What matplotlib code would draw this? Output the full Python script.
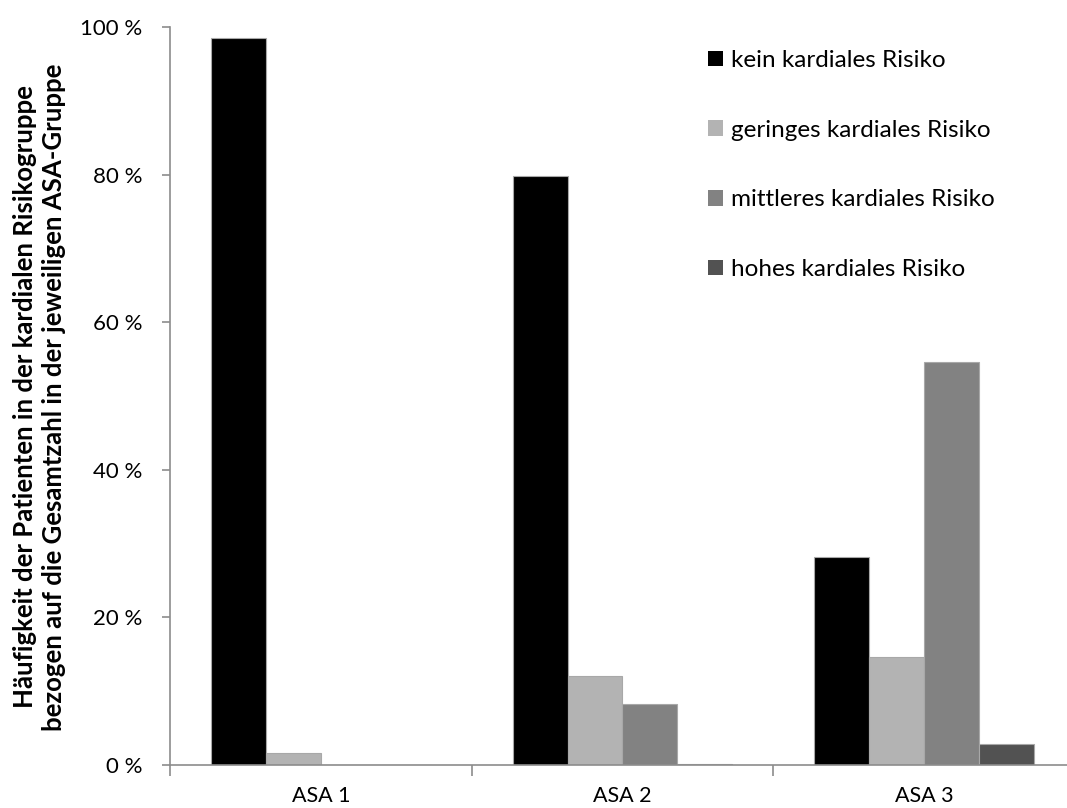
import matplotlib.pyplot as plt
import numpy as np

# ASA groups and share of patients per cardiac risk group (%)
groups = ['ASA 1', 'ASA 2', 'ASA 3']
risk_labels = ['kein kardiales Risiko', 'geringes kardiales Risiko',
               'mittleres kardiales Risiko', 'hohes kardiales Risiko']
kein = [98.5, 79.8, 28.2]
gering = [1.6, 12.0, 14.7]
mittel = [0.0, 8.2, 54.6]
hoch = [0.0, 0.2, 2.8]
yticks = [0, 20, 40, 60, 80, 100]

colors = ['#000000', '#b3b3b3', '#828282', '#525252']
series = [kein, gering, mittel, hoch]

plt.rcParams['font.family'] = ['Lato', 'DejaVu Sans']

fig = plt.figure(figsize=(10.67, 8.08), dpi=100)
ax = fig.add_axes([170 / 1067, 43 / 808, 905 / 1067, 738 / 808])

x = np.arange(len(groups))
w = 0.182
for i, (vals, col, lab) in enumerate(zip(series, colors, risk_labels)):
    ax.bar(x + (i - 1.5) * w, vals, width=w, color=col, edgecolor='#a8a8a8',
           linewidth=0.8, label=lab, zorder=2)

ax.set_xlim(-0.5, 2.5)
ax.set_ylim(0, 100)
ax.set_yticks(yticks)
ax.set_yticklabels([f'{v} %' for v in yticks], fontsize=16)
ax.set_xticks(x)
ax.set_xticklabels(groups, fontsize=15.5)
ax.set_xticks([-0.5, 0.5, 1.5, 2.5], minor=True)
ax.tick_params(axis='x', which='major', length=0, pad=15)
ax.tick_params(axis='x', which='minor', length=8, width=1.2, color='#8c8c8c')
ax.tick_params(axis='y', length=6, width=1.2, color='#8c8c8c', pad=14)

for side in ['top', 'right']:
    ax.spines[side].set_visible(False)
for side in ['left', 'bottom']:
    ax.spines[side].set_color('#8c8c8c')
    ax.spines[side].set_linewidth(1.2)

fig.text(40 / 1067, 1 - 397 / 808,
         'Häufigkeit der Patienten in der kardialen Risikogruppe\n'
         'bezogen auf die Gesamtzahl in der jeweiligen ASA-Gruppe',
         rotation=90, ha='center', va='center', fontsize=18.5,
         fontweight='bold', linespacing=1.25)

leg = ax.legend(loc='upper left', bbox_to_anchor=(696 / 1067, 1 - 38 / 808),
                bbox_transform=fig.transFigure, frameon=False, fontsize=17.5,
                handlelength=0.6, handleheight=0.6, handletextpad=0.35,
                labelspacing=2.0, borderpad=0)
for h in leg.legend_handles:
    h.set_edgecolor('none')

fig.savefig('out.png', dpi=100)
